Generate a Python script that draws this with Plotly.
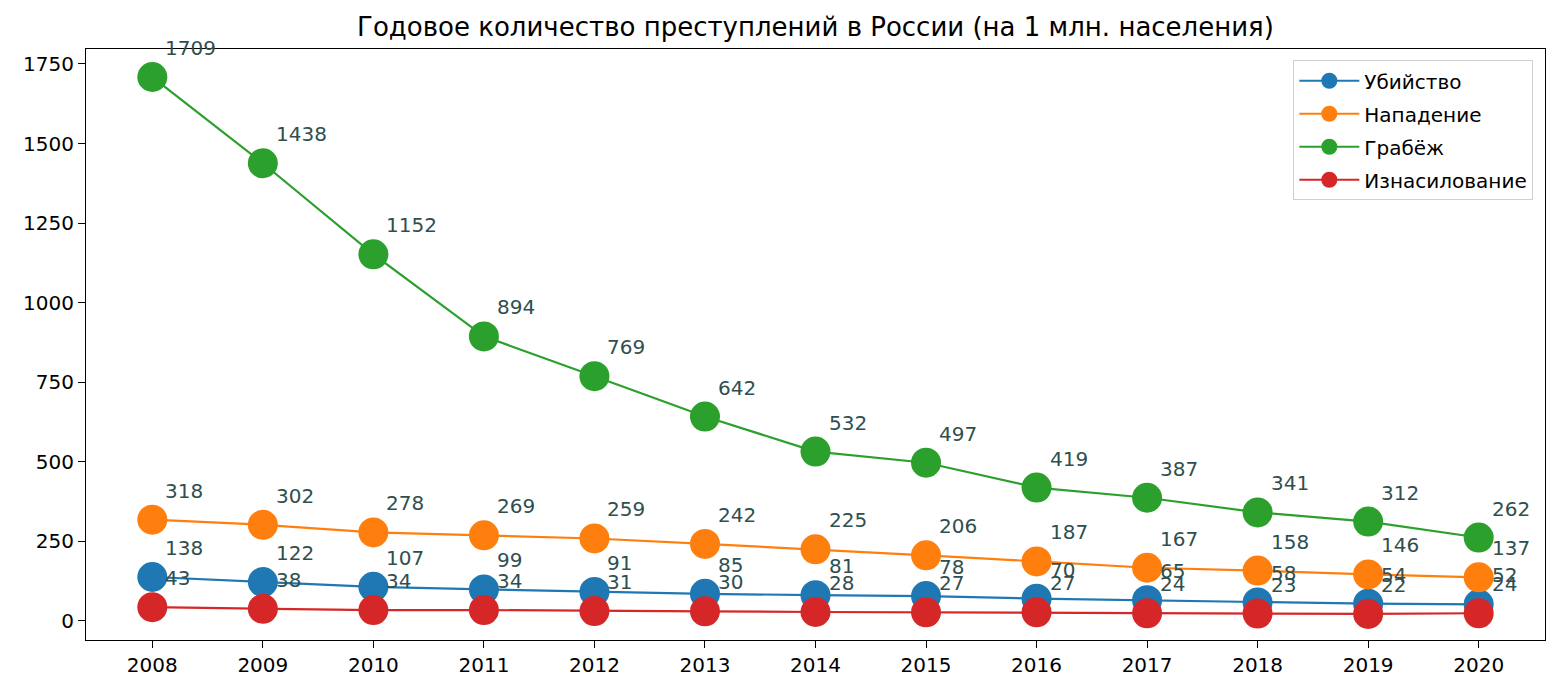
import plotly.graph_objects as go

years = list(range(2008, 2021))
murder = [138, 122, 107, 99, 91, 85, 81, 78, 70, 65, 58, 54, 52]
assault = [318, 302, 278, 269, 259, 242, 225, 206, 187, 167, 158, 146, 137]
robbery = [1709, 1438, 1152, 894, 769, 642, 532, 497, 419, 387, 341, 312, 262]
rape = [43, 38, 34, 34, 31, 30, 28, 27, 27, 24, 23, 22, 24]

names = ["Убийство", "Нападение", "Грабёж", "Изнасилование"]
colors = ["#1f77b4", "#ff7f0e", "#2ca02c", "#d62728"]
series = [murder, assault, robbery, rape]

fig = go.Figure()
for name, color, vals in zip(names, colors, series):
    fig.add_trace(go.Scatter(
        x=years, y=vals, name=name, mode="lines+markers",
        legendgroup=name,
        line=dict(color=color, width=2.2),
        marker=dict(color=color, size=30),
    ))

# подписи значений
for vals in series:
    for yr, v in zip(years, vals):
        fig.add_annotation(
            x=yr, y=v, text=str(v), showarrow=False,
            xanchor="left", yanchor="middle", xshift=11, yshift=29,
            font=dict(size=20, color="#2f4f4f"),
        )

axis_common = dict(
    showgrid=False, zeroline=False, showline=True, linecolor="black",
    linewidth=1.2, mirror=True, ticks="outside", ticklen=7, tickcolor="black",
    tickwidth=1.2, tickfont=dict(size=20, color="black"),
)

# page body has an 8px margin, so the figure is a bit smaller than the window
fig.update_layout(
    width=1552, height=686,
    title=dict(text="Годовое количество преступлений в России (на 1 млн. населения)",
               x=0.5, xanchor="center", xref="paper",
               y=1 - 19 / 686, yanchor="middle",
               font=dict(size=26, color="black")),
    font=dict(family="DejaVu Sans"),
    plot_bgcolor="white", paper_bgcolor="white",
    margin=dict(l=78, r=15, t=41, b=54),
    xaxis=dict(range=[2007.4, 2020.6], tickvals=years, **axis_common),
    yaxis=dict(range=[-60, 1797], tickvals=[0, 250, 500, 750, 1000, 1250, 1500, 1750],
               **axis_common),
    legend=dict(x=0.992, y=0.981, xanchor="right", yanchor="top",
                bordercolor="#d0d0d0", borderwidth=1, bgcolor="white",
                font=dict(size=20, color="black"), itemwidth=60,
                tracegroupgap=4),
    showlegend=True,
)

fig.write_html("out.html")
